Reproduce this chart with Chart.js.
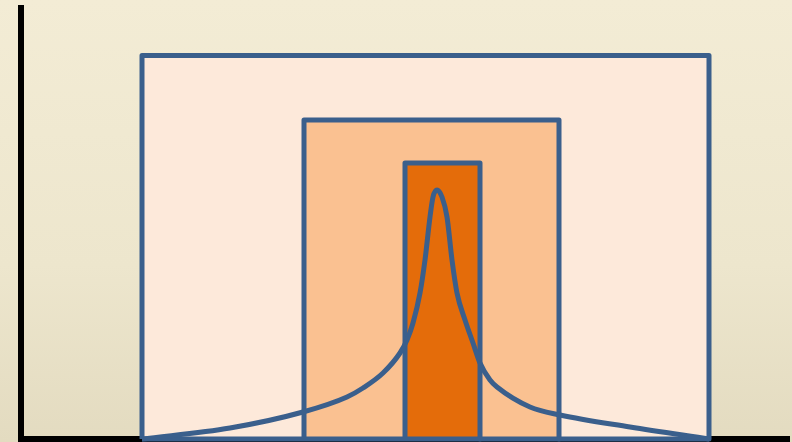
<!DOCTYPE html>
<html>
<head>
<meta charset="utf-8">
<script src="https://cdn.jsdelivr.net/npm/chart.js@4/dist/chart.umd.min.js"></script>
<style>
  html, body { margin: 0; padding: 0; }
  body { background: linear-gradient(to bottom, #f3ecd5 0%, #ede6cd 60%, #e3dbc0 100%); }
  #wrap { width: 792px; height: 442px; position: relative; }
</style>
</head>
<body>
<div id="wrap"><canvas id="distChart"></canvas></div>
<script>
// nested ranges (x from / x to, height)
const outerRange = [121, 688];
const outerHeight = 383.5;
const middleRange = [283, 538];
const middleHeight = 319;
const innerRange = [384, 459];
const innerHeight = 276;

// peak curve
const curveX = [121, 209, 282, 326, 342, 362, 379, 386, 392, 399, 404, 409, 412, 416,
  421, 426, 431, 436, 444, 452, 459, 469, 476, 509, 539, 609, 688];
const curveY = [0, 11, 27, 42, 51, 66, 86, 99, 116, 146, 179, 222, 242, 249,
  242, 222, 179, 146, 119, 96, 76, 59, 52, 32, 24, 12, 0];

const blue = "#3a5f8c";

function box(range, h) {
  return [
    { x: range[0], y: 0 },
    { x: range[0], y: h },
    { x: range[1], y: h },
    { x: range[1], y: 0 },
  ];
}

function rectSet(range, h, fill) {
  return {
    data: box(range, h),
    borderColor: blue,
    borderWidth: 5,
    borderJoinStyle: "round",
    backgroundColor: fill,
    fill: "origin",
    tension: 0,
    pointRadius: 0,
    clip: false,
  };
}

const ctx = document.getElementById("distChart").getContext("2d");
const distChart = new Chart(ctx, {
  type: "line",
  data: {
    datasets: [
      {
        data: curveX.map((x, i) => ({ x: x, y: curveY[i] })),
        borderColor: blue,
        borderWidth: 5,
        fill: false,
        cubicInterpolationMode: "monotone",
        pointRadius: 0,
        clip: false,
      },
      {
        // shared bottom edge of the boxes
        data: [{ x: outerRange[0], y: 0 }, { x: outerRange[1], y: 0 }],
        borderColor: blue,
        borderWidth: 5,
        fill: false,
        pointRadius: 0,
        clip: false,
      },
      rectSet(innerRange, innerHeight, "#e46c0a"),
      rectSet(middleRange, middleHeight, "#fac191"),
      rectSet(outerRange, outerHeight, "#fde9da"),
    ],
  },
  options: {
    responsive: true,
    maintainAspectRatio: false,
    animation: false,
    layout: { padding: { left: 21, right: 3, top: 8, bottom: 3 } },
    scales: {
      x: {
        type: "linear",
        min: 0,
        max: 768,
        ticks: { display: false },
        grid: { display: false, drawTicks: false },
        border: { display: true, color: "#000", width: 6 },
      },
      y: {
        type: "linear",
        min: 0,
        max: 431,
        ticks: { display: false },
        grid: { display: false, drawTicks: false },
        border: { display: true, color: "#000", width: 6 },
      },
    },
    plugins: { legend: { display: false }, tooltip: { enabled: false } },
  },
});
</script>
</body>
</html>
